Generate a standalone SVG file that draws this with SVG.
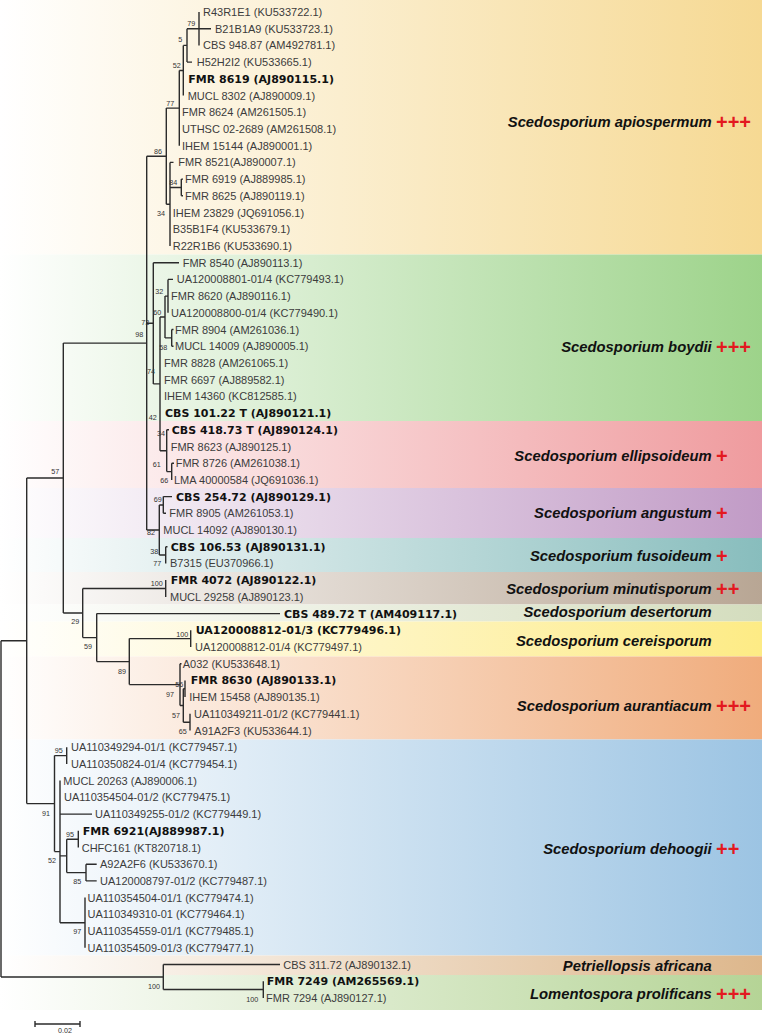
<svg xmlns="http://www.w3.org/2000/svg" width="762" height="1033" viewBox="0 0 762 1033">
<defs>
<style>
.t{font-family:"Liberation Sans",Arial,sans-serif;font-size:11px;fill:#3c3c3c}
.b{font-family:"DejaVu Sans",Verdana,sans-serif;font-weight:bold;font-size:11px;fill:#111}
.bs{font-family:"Liberation Sans",Arial,sans-serif;font-size:7.2px;fill:#333;text-anchor:end}
.cl{font-family:"Liberation Sans",Arial,sans-serif;font-style:italic;font-weight:bold;font-size:14.8px;fill:#111;text-anchor:end}
.pl{font-family:"Liberation Sans",Arial,sans-serif;font-weight:bold;font-size:20px;fill:#e3191f}
.ln{fill:none;stroke:#2b2b2b;stroke-width:1.4}
</style>
<linearGradient id="gApi" gradientUnits="userSpaceOnUse" x1="0" y1="0" x2="762" y2="0"><stop offset="0" stop-color="#fff"/><stop offset="1" stop-color="#f6d993"/></linearGradient>
<linearGradient id="gBoy" gradientUnits="userSpaceOnUse" x1="0" y1="0" x2="762" y2="0"><stop offset="0" stop-color="#fff"/><stop offset="1" stop-color="#9dd38a"/></linearGradient>
<linearGradient id="gEll" gradientUnits="userSpaceOnUse" x1="0" y1="0" x2="762" y2="0"><stop offset="0" stop-color="#fff"/><stop offset="1" stop-color="#ef9b9e"/></linearGradient>
<linearGradient id="gAng" gradientUnits="userSpaceOnUse" x1="0" y1="0" x2="762" y2="0"><stop offset="0" stop-color="#fff"/><stop offset="1" stop-color="#c19bc6"/></linearGradient>
<linearGradient id="gFus" gradientUnits="userSpaceOnUse" x1="0" y1="0" x2="762" y2="0"><stop offset="0" stop-color="#fff"/><stop offset="1" stop-color="#88bdbd"/></linearGradient>
<linearGradient id="gMin" gradientUnits="userSpaceOnUse" x1="0" y1="0" x2="762" y2="0"><stop offset="0" stop-color="#fff"/><stop offset="1" stop-color="#b8a694"/></linearGradient>
<linearGradient id="gDes" gradientUnits="userSpaceOnUse" x1="0" y1="0" x2="762" y2="0"><stop offset="0" stop-color="#fff"/><stop offset="1" stop-color="#d4ddbe"/></linearGradient>
<linearGradient id="gCer" gradientUnits="userSpaceOnUse" x1="0" y1="0" x2="762" y2="0"><stop offset="0" stop-color="#fff"/><stop offset="1" stop-color="#fdeb85"/></linearGradient>
<linearGradient id="gAur" gradientUnits="userSpaceOnUse" x1="0" y1="0" x2="762" y2="0"><stop offset="0" stop-color="#fff"/><stop offset="1" stop-color="#f0ac7c"/></linearGradient>
<linearGradient id="gDeh" gradientUnits="userSpaceOnUse" x1="0" y1="0" x2="762" y2="0"><stop offset="0" stop-color="#fff"/><stop offset="1" stop-color="#9cc4e3"/></linearGradient>
<linearGradient id="gPet" gradientUnits="userSpaceOnUse" x1="0" y1="0" x2="762" y2="0"><stop offset="0" stop-color="#fff"/><stop offset="1" stop-color="#ddb78c"/></linearGradient>
<linearGradient id="gLom" gradientUnits="userSpaceOnUse" x1="0" y1="0" x2="762" y2="0"><stop offset="0" stop-color="#fff"/><stop offset="1" stop-color="#b5d496"/></linearGradient>
</defs>
<rect width="762" height="1033" fill="#fff"/>

<g id="bands">
<rect x="0" y="0" width="762" height="254.5" fill="url(#gApi)"/>
<rect x="0" y="254.5" width="762" height="166.5" fill="url(#gBoy)"/>
<rect x="0" y="421" width="762" height="67" fill="url(#gEll)"/>
<rect x="0" y="488" width="762" height="50" fill="url(#gAng)"/>
<rect x="0" y="538" width="762" height="34" fill="url(#gFus)"/>
<rect x="0" y="572" width="762" height="32.5" fill="url(#gMin)"/>
<rect x="0" y="604.5" width="762" height="17" fill="url(#gDes)"/>
<rect x="0" y="621.5" width="762" height="35" fill="url(#gCer)"/>
<rect x="0" y="656.5" width="762" height="83" fill="url(#gAur)"/>
<rect x="0" y="739.5" width="762" height="216" fill="url(#gDeh)"/>
<rect x="0" y="955.5" width="762" height="19.5" fill="url(#gPet)"/>
<rect x="0" y="975" width="762" height="35" fill="url(#gLom)"/>
</g>

<g id="connectors" class="ln">
<path d="M199,12V45.4M199,28.7H211"/>
<path d="M187,28.7V62.1M187,28.7H199M187,62.1H192"/>
<path d="M183.3,45.4V95.6M183.3,45.4H187"/>
<path d="M179.3,70.5V145.7M179.3,70.5H183.3"/>
<path d="M166.3,108.1V204.2M166.3,108.1H179.3M166.3,204.2H170"/>
<path d="M181.3,179.1V195.8M181.3,179.1H183M181.3,195.8H183M170,187.5H181.3"/>
<path d="M170,162.4V245.9M170,162.4H173.5"/>
<path d="M146.7,156.2V530M146.7,156.2H166.3M146.7,323.3H153.3M146.7,530H159.3"/>
<path d="M153.3,262.7V383.9M153.3,262.7H179M153.3,383.9H160"/>
<path d="M160,317V450.7M160,317H165M160,450.7H166.7"/>
<path d="M165,296.1V337.9M165,296.1H168M165,337.9H171.7"/>
<path d="M168,279.4V312.8M168,279.4H173"/>
<path d="M171.7,329.5V346.2M171.7,329.5H173.5M171.7,346.2H173.5"/>
<path d="M166.7,429.8V471.6M166.7,429.8H169M166.7,471.6H171.7"/>
<path d="M171.7,463.2V479.9M171.7,463.2H174"/>
<path d="M159.3,505V555M159.3,505H163.3M159.3,555H165.7"/>
<path d="M163.3,496.6V513.3M163.3,496.6H172M163.3,513.3H166"/>
<path d="M165.7,546.7V563.4M165.7,546.7H167.5"/>
<path d="M63.3,343.1V613M63.3,343.1H146.7M63.3,613H82.7"/>
<path d="M82.7,588.5V637.6M82.7,588.5H165.7M82.7,637.6H96.7"/>
<path d="M165.7,580.1V596.9"/>
<path d="M96.7,613.6V661.6M96.7,613.6H280M96.7,661.6H129.3"/>
<path d="M129.3,638.6V684.6M129.3,638.6H190.7M129.3,684.6H180"/>
<path d="M190.7,630.3V647"/>
<path d="M180,663.7V705.5M180,663.7H181.5M180,705.5H183.3"/>
<path d="M183.3,688.8V722.2M183.3,688.8H185M183.3,722.2H190"/>
<path d="M185,680.4V697.1"/>
<path d="M190,713.8V730.5"/>
<path d="M26.7,478V803.6M26.7,478H63.3M26.7,803.6H54.5"/>
<path d="M54.5,755.6V851.6M54.5,755.6H66.7M54.5,851.6H60"/>
<path d="M66.7,747.2V763.9"/>
<path d="M60,780.6V922.7M60,814.1H92M60,855.9H66.7M60,922.7H85"/>
<path d="M66.7,839.2V872.6M66.7,839.2H78.3M66.7,872.6H86"/>
<path d="M78.3,830.8V847.5"/>
<path d="M86,864.2V880.9M86,864.2H96.7M86,880.9H96.7"/>
<path d="M85,897.6V947.7"/>
<path d="M1,640.8V977M1,640.8H26.7M1,977H163.3"/>
<path d="M163.3,964.5V989.5M163.3,964.5H280M163.3,989.5H263.3"/>
<path d="M263.3,981.2V997.9"/>
<path d="M35,1024H80M35,1021V1027M80,1021V1027"/>
</g>

<g id="support">
<text class="bs" x="195.3" y="26">79</text>
<text class="bs" x="182.3" y="42.3">5</text>
<text class="bs" x="180.7" y="67.7">52</text>
<text class="bs" x="174.3" y="106">77</text>
<text class="bs" x="162" y="154.3">86</text>
<text class="bs" x="177.3" y="185">84</text>
<text class="bs" x="165" y="216">34</text>
<text class="bs" x="163.3" y="294">32</text>
<text class="bs" x="161.3" y="315">60</text>
<text class="bs" x="149.3" y="324.5">73</text>
<text class="bs" x="143.3" y="337.3">98</text>
<text class="bs" x="167.3" y="349.5">58</text>
<text class="bs" x="155" y="374">74</text>
<text class="bs" x="156.7" y="419.5">42</text>
<text class="bs" x="165" y="436">34</text>
<text class="bs" x="160.7" y="466.7">61</text>
<text class="bs" x="168.3" y="482.7">66</text>
<text class="bs" x="161.7" y="501.7">69</text>
<text class="bs" x="155" y="535.3">82</text>
<text class="bs" x="158.3" y="554.3">38</text>
<text class="bs" x="161.3" y="566">77</text>
<text class="bs" x="162.7" y="586">100</text>
<text class="bs" x="59.3" y="474.3">57</text>
<text class="bs" x="79.3" y="624.3">29</text>
<text class="bs" x="92" y="649.3">59</text>
<text class="bs" x="188.3" y="637">100</text>
<text class="bs" x="126" y="673.7">89</text>
<text class="bs" x="183.3" y="686.7">56</text>
<text class="bs" x="174" y="696.7">97</text>
<text class="bs" x="180" y="717.7">57</text>
<text class="bs" x="186.7" y="733.7">65</text>
<text class="bs" x="62.7" y="753.3">95</text>
<text class="bs" x="50" y="816">91</text>
<text class="bs" x="74" y="836.7">95</text>
<text class="bs" x="56" y="862.7">52</text>
<text class="bs" x="81.3" y="884.3">85</text>
<text class="bs" x="81.3" y="934.3">97</text>
<text class="bs" x="160" y="988.7">100</text>
<text class="bs" x="258.3" y="1002">100</text>
<text class="bs" x="65" y="1032.5" style="text-anchor:middle">0.02</text>
</g>

<g id="leaves">
<g id="leaf-01"><text class="t" x="203" y="16">R43R1E1 (KU533722.1)</text></g>
<g id="leaf-02"><text class="t" x="215" y="32.7">B21B1A9 (KU533723.1)</text></g>
<g id="leaf-03"><text class="t" x="203" y="49.4">CBS 948.87 (AM492781.1)</text></g>
<g id="leaf-04"><text class="t" x="196.7" y="66.1">H52H2I2 (KU533665.1)</text></g>
<g id="leaf-05"><text class="b" x="188.3" y="82.8">FMR 8619 (AJ890115.1)</text></g>
<g id="leaf-06"><text class="t" x="187.7" y="99.6">MUCL 8302 (AJ890009.1)</text></g>
<g id="leaf-07"><text class="t" x="182" y="116.3">FMR 8624 (AM261505.1)</text></g>
<g id="leaf-08"><text class="t" x="182" y="133">UTHSC 02-2689 (AM261508.1)</text></g>
<g id="leaf-09"><text class="t" x="182" y="149.7">IHEM 15144 (AJ890001.1)</text></g>
<g id="leaf-10"><text class="t" x="178.3" y="166.4">FMR 8521(AJ890007.1)</text></g>
<g id="leaf-11"><text class="t" x="185" y="183.1">FMR 6919 (AJ889985.1)</text></g>
<g id="leaf-12"><text class="t" x="185" y="199.8">FMR 8625 (AJ890119.1)</text></g>
<g id="leaf-13"><text class="t" x="172.7" y="216.5">IHEM 23829 (JQ691056.1)</text></g>
<g id="leaf-14"><text class="t" x="172.7" y="233.2">B35B1F4 (KU533679.1)</text></g>
<g id="leaf-15"><text class="t" x="172.7" y="249.9">R22R1B6 (KU533690.1)</text></g>
<g id="leaf-16"><text class="t" x="182.7" y="266.7">FMR 8540 (AJ890113.1)</text></g>
<g id="leaf-17"><text class="t" x="176.7" y="283.4">UA120008801-01/4 (KC779493.1)</text></g>
<g id="leaf-18"><text class="t" x="171" y="300.1">FMR 8620 (AJ890116.1)</text></g>
<g id="leaf-19"><text class="t" x="171" y="316.8">UA120008800-01/4 (KC779490.1)</text></g>
<g id="leaf-20"><text class="t" x="175" y="333.5">FMR 8904 (AM261036.1)</text></g>
<g id="leaf-21"><text class="t" x="175" y="350.2">MUCL 14009 (AJ890005.1)</text></g>
<g id="leaf-22"><text class="t" x="164" y="366.9">FMR 8828 (AM261065.1)</text></g>
<g id="leaf-23"><text class="t" x="164" y="383.6">FMR 6697 (AJ889582.1)</text></g>
<g id="leaf-24"><text class="t" x="164" y="400.3">IHEM 14360 (KC812585.1)</text></g>
<g id="leaf-25"><text class="b" x="165" y="417">CBS 101.22 T (AJ890121.1)</text></g>
<g id="leaf-26"><text class="b" x="171.7" y="433.8">CBS 418.73 T (AJ890124.1)</text></g>
<g id="leaf-27"><text class="t" x="170.7" y="450.5">FMR 8623 (AJ890125.1)</text></g>
<g id="leaf-28"><text class="t" x="175.7" y="467.2">FMR 8726 (AM261038.1)</text></g>
<g id="leaf-29"><text class="t" x="174" y="483.9">LMA 40000584 (JQ691036.1)</text></g>
<g id="leaf-30"><text class="b" x="176" y="500.6">CBS 254.72 (AJ890129.1)</text></g>
<g id="leaf-31"><text class="t" x="169.3" y="517.3">FMR 8905 (AM261053.1)</text></g>
<g id="leaf-32"><text class="t" x="163.3" y="534">MUCL 14092 (AJ890130.1)</text></g>
<g id="leaf-33"><text class="b" x="170.7" y="550.7">CBS 106.53 (AJ890131.1)</text></g>
<g id="leaf-34"><text class="t" x="170" y="567.4">B7315 (EU370966.1)</text></g>
<g id="leaf-35"><text class="b" x="170.7" y="584.1">FMR 4072 (AJ890122.1)</text></g>
<g id="leaf-36"><text class="t" x="170" y="600.9">MUCL 29258 (AJ890123.1)</text></g>
<g id="leaf-37"><text class="b" x="284" y="617.6">CBS 489.72 T (AM409117.1)</text></g>
<g id="leaf-38"><text class="b" x="195.7" y="634.3">UA120008812-01/3 (KC779496.1)</text></g>
<g id="leaf-39"><text class="t" x="195" y="651">UA120008812-01/4 (KC779497.1)</text></g>
<g id="leaf-40"><text class="t" x="182.7" y="667.7">A032 (KU533648.1)</text></g>
<g id="leaf-41"><text class="b" x="190.7" y="684.4">FMR 8630 (AJ890133.1)</text></g>
<g id="leaf-42"><text class="t" x="189.3" y="701.1">IHEM 15458 (AJ890135.1)</text></g>
<g id="leaf-43"><text class="t" x="194" y="717.8">UA110349211-01/2 (KC779441.1)</text></g>
<g id="leaf-44"><text class="t" x="194.3" y="734.5">A91A2F3 (KU533644.1)</text></g>
<g id="leaf-45"><text class="t" x="71" y="751.2">UA110349294-01/1 (KC779457.1)</text></g>
<g id="leaf-46"><text class="t" x="71" y="767.9">UA110350824-01/4 (KC779454.1)</text></g>
<g id="leaf-47"><text class="t" x="63.3" y="784.6">MUCL 20263 (AJ890006.1)</text></g>
<g id="leaf-48"><text class="t" x="64" y="801.4">UA110354504-01/2 (KC779475.1)</text></g>
<g id="leaf-49"><text class="t" x="95" y="818.1">UA110349255-01/2 (KC779449.1)</text></g>
<g id="leaf-50"><text class="b" x="82.7" y="834.8">FMR 6921(AJ889987.1)</text></g>
<g id="leaf-51"><text class="t" x="81.7" y="851.5">CHFC161 (KT820718.1)</text></g>
<g id="leaf-52"><text class="t" x="100" y="868.2">A92A2F6 (KU533670.1)</text></g>
<g id="leaf-53"><text class="t" x="100" y="884.9">UA120008797-01/2 (KC779487.1)</text></g>
<g id="leaf-54"><text class="t" x="87.5" y="901.6">UA110354504-01/1 (KC779474.1)</text></g>
<g id="leaf-55"><text class="t" x="87.5" y="918.3">UA110349310-01 (KC779464.1)</text></g>
<g id="leaf-56"><text class="t" x="87.5" y="935">UA110354559-01/1 (KC779485.1)</text></g>
<g id="leaf-57"><text class="t" x="87.5" y="951.7">UA110354509-01/3 (KC779477.1)</text></g>
<g id="leaf-58"><text class="t" x="283.3" y="968.5">CBS 311.72 (AJ890132.1)</text></g>
<g id="leaf-59"><text class="b" x="266.7" y="985.2">FMR 7249 (AM265569.1)</text></g>
<g id="leaf-60"><text class="t" x="266" y="1001.9">FMR 7294 (AJ890127.1)</text></g>
</g>

<g id="clades">
<g id="clade-apiospermum"><text class="cl" x="711.7" y="127">Scedosporium apiospermum</text><text class="pl" x="716" y="129">+++</text></g>
<g id="clade-boydii"><text class="cl" x="711.7" y="351.7">Scedosporium boydii</text><text class="pl" x="716" y="353.7">+++</text></g>
<g id="clade-ellipsoideum"><text class="cl" x="711.7" y="460.7">Scedosporium ellipsoideum</text><text class="pl" x="716" y="462.7">+</text></g>
<g id="clade-angustum"><text class="cl" x="711.7" y="518.3">Scedosporium angustum</text><text class="pl" x="716" y="520.3">+</text></g>
<g id="clade-fusoideum"><text class="cl" x="711.7" y="560.7">Scedosporium fusoideum</text><text class="pl" x="716" y="562.7">+</text></g>
<g id="clade-minutisporum"><text class="cl" x="711.7" y="594">Scedosporium minutisporum</text><text class="pl" x="716" y="596">++</text></g>
<g id="clade-desertorum"><text class="cl" x="711.7" y="616.7">Scedosporium desertorum</text></g>
<g id="clade-cereisporum"><text class="cl" x="711.7" y="645.7">Scedosporium cereisporum</text></g>
<g id="clade-aurantiacum"><text class="cl" x="711.7" y="711">Scedosporium aurantiacum</text><text class="pl" x="716" y="713">+++</text></g>
<g id="clade-dehoogii"><text class="cl" x="711.7" y="854">Scedosporium dehoogii</text><text class="pl" x="716" y="856">++</text></g>
<g id="clade-petriellopsis"><text class="cl" x="711.7" y="970.7">Petriellopsis africana</text></g>
<g id="clade-lomentospora"><text class="cl" x="711.7" y="999.3">Lomentospora prolificans</text><text class="pl" x="716" y="1001.3">+++</text></g>
</g>
</svg>
